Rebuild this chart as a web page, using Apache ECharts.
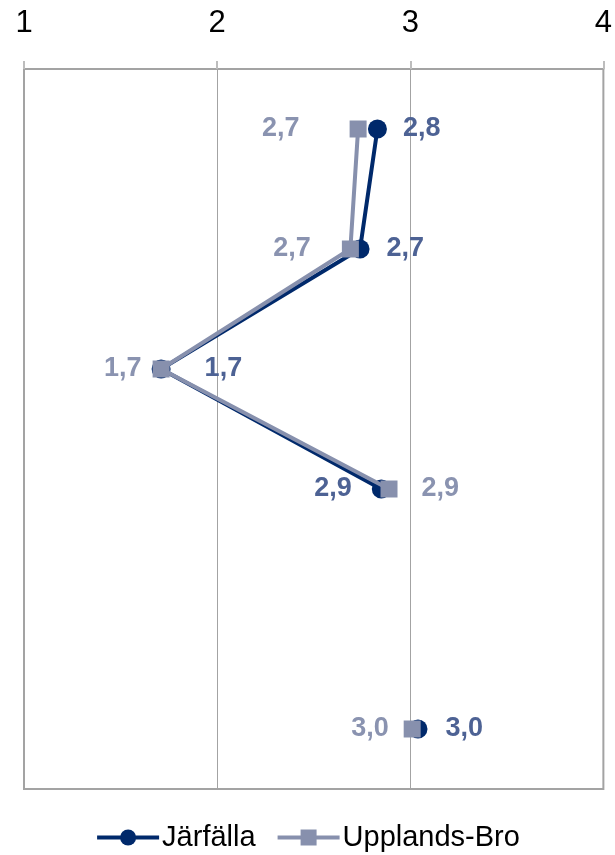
<!DOCTYPE html>
<html>
<head>
<meta charset="utf-8">
<script src="https://cdn.jsdelivr.net/npm/echarts@6/dist/echarts.min.js"></script>
<style>html,body{margin:0;padding:0;background:#fff}#c{width:615px;height:855px}</style>
</head>
<body>
<div id="c"></div>
<script>
// Data
const categories = ['1', '2', '3', '4', '5', '6'];
const seriesNames = ['Järfälla', 'Upplands-Bro'];
const jarfalla = [2.83, 2.74, 1.71, 2.85, null, 3.04];
const upplandsBro = [2.73, 2.69, 1.71, 2.89, null, 3.01];
const xTicks = [1, 2, 3, 4];

// Label layout (styling)
const jarLabelSide = ['right', 'right', 'right', 'left', 'right', 'right'];
const jarLabelGap = [16, 17, 34, 20, 0, 18];
const uppLabelSide = ['left', 'left', 'left', 'right', 'left', 'left'];
const uppLabelGap = [50, 31, 11, 24, 0, 15];

const fmt = v => v == null ? '' : v.toFixed(1).replace('.', ',');

function build(values, side, gap) {
  return values.map((v, i) => ({
    value: v,
    label: { position: side[i], distance: gap[i] }
  }));
}

const chart = echarts.init(document.getElementById('c'));
chart.setOption({
  animation: false,
  backgroundColor: '#ffffff',
  textStyle: { fontFamily: 'Liberation Sans, Arial, sans-serif' },
  grid: {
    left: 24, right: 9, top: 69, bottom: 66,
    show: true, borderColor: '#a3a3a3', borderWidth: 2
  },
  legend: {
    bottom: -2,
    left: 'center',
    itemWidth: 62,
    itemHeight: 20,
    itemGap: 20,
    lineStyle: { width: 4 },
    textStyle: { fontSize: 29, color: '#000', fontFamily: 'Liberation Sans, Arial, sans-serif', padding: [0, 0, 0, -2] },
    data: seriesNames
  },
  xAxis: {
    type: 'value',
    position: 'top',
    min: xTicks[0],
    max: xTicks[xTicks.length - 1],
    interval: 1,
    axisLine: { show: true, lineStyle: { color: '#a3a3a3', width: 2 } },
    axisTick: { show: true, length: 8, lineStyle: { color: '#bdbdbd', width: 2 } },
    axisLabel: { fontSize: 31, color: '#000', margin: 30, formatter: v => String(v) },
    splitLine: { show: true, lineStyle: { color: '#a3a3a3', width: 1 } }
  },
  yAxis: {
    type: 'category',
    inverse: true,
    data: categories,
    boundaryGap: true,
    axisLine: { show: true, lineStyle: { color: '#a3a3a3', width: 2 } },
    axisTick: { show: false },
    axisLabel: { show: false },
    splitLine: { show: false }
  },
  series: [
    {
      name: seriesNames[0],
      type: 'line',
      data: build(jarfalla, jarLabelSide, jarLabelGap),
      connectNulls: false,
      symbol: 'circle',
      symbolSize: 19,
      lineStyle: { color: '#00296b', width: 4 },
      itemStyle: { color: '#00296b' },
      label: {
        show: true, fontSize: 27, fontWeight: 'bold', color: '#4d6294',
        formatter: p => fmt(p.value)
      },
      z: 2
    },
    {
      name: seriesNames[1],
      type: 'line',
      data: build(upplandsBro, uppLabelSide, uppLabelGap),
      connectNulls: false,
      symbol: 'rect',
      symbolSize: 17,
      lineStyle: { color: '#8790ad', width: 4 },
      itemStyle: { color: '#8790ad' },
      label: {
        show: true, fontSize: 27, fontWeight: 'bold', color: '#8a93b0',
        formatter: p => fmt(p.value)
      },
      z: 3
    }
  ]
});
</script>
</body>
</html>
